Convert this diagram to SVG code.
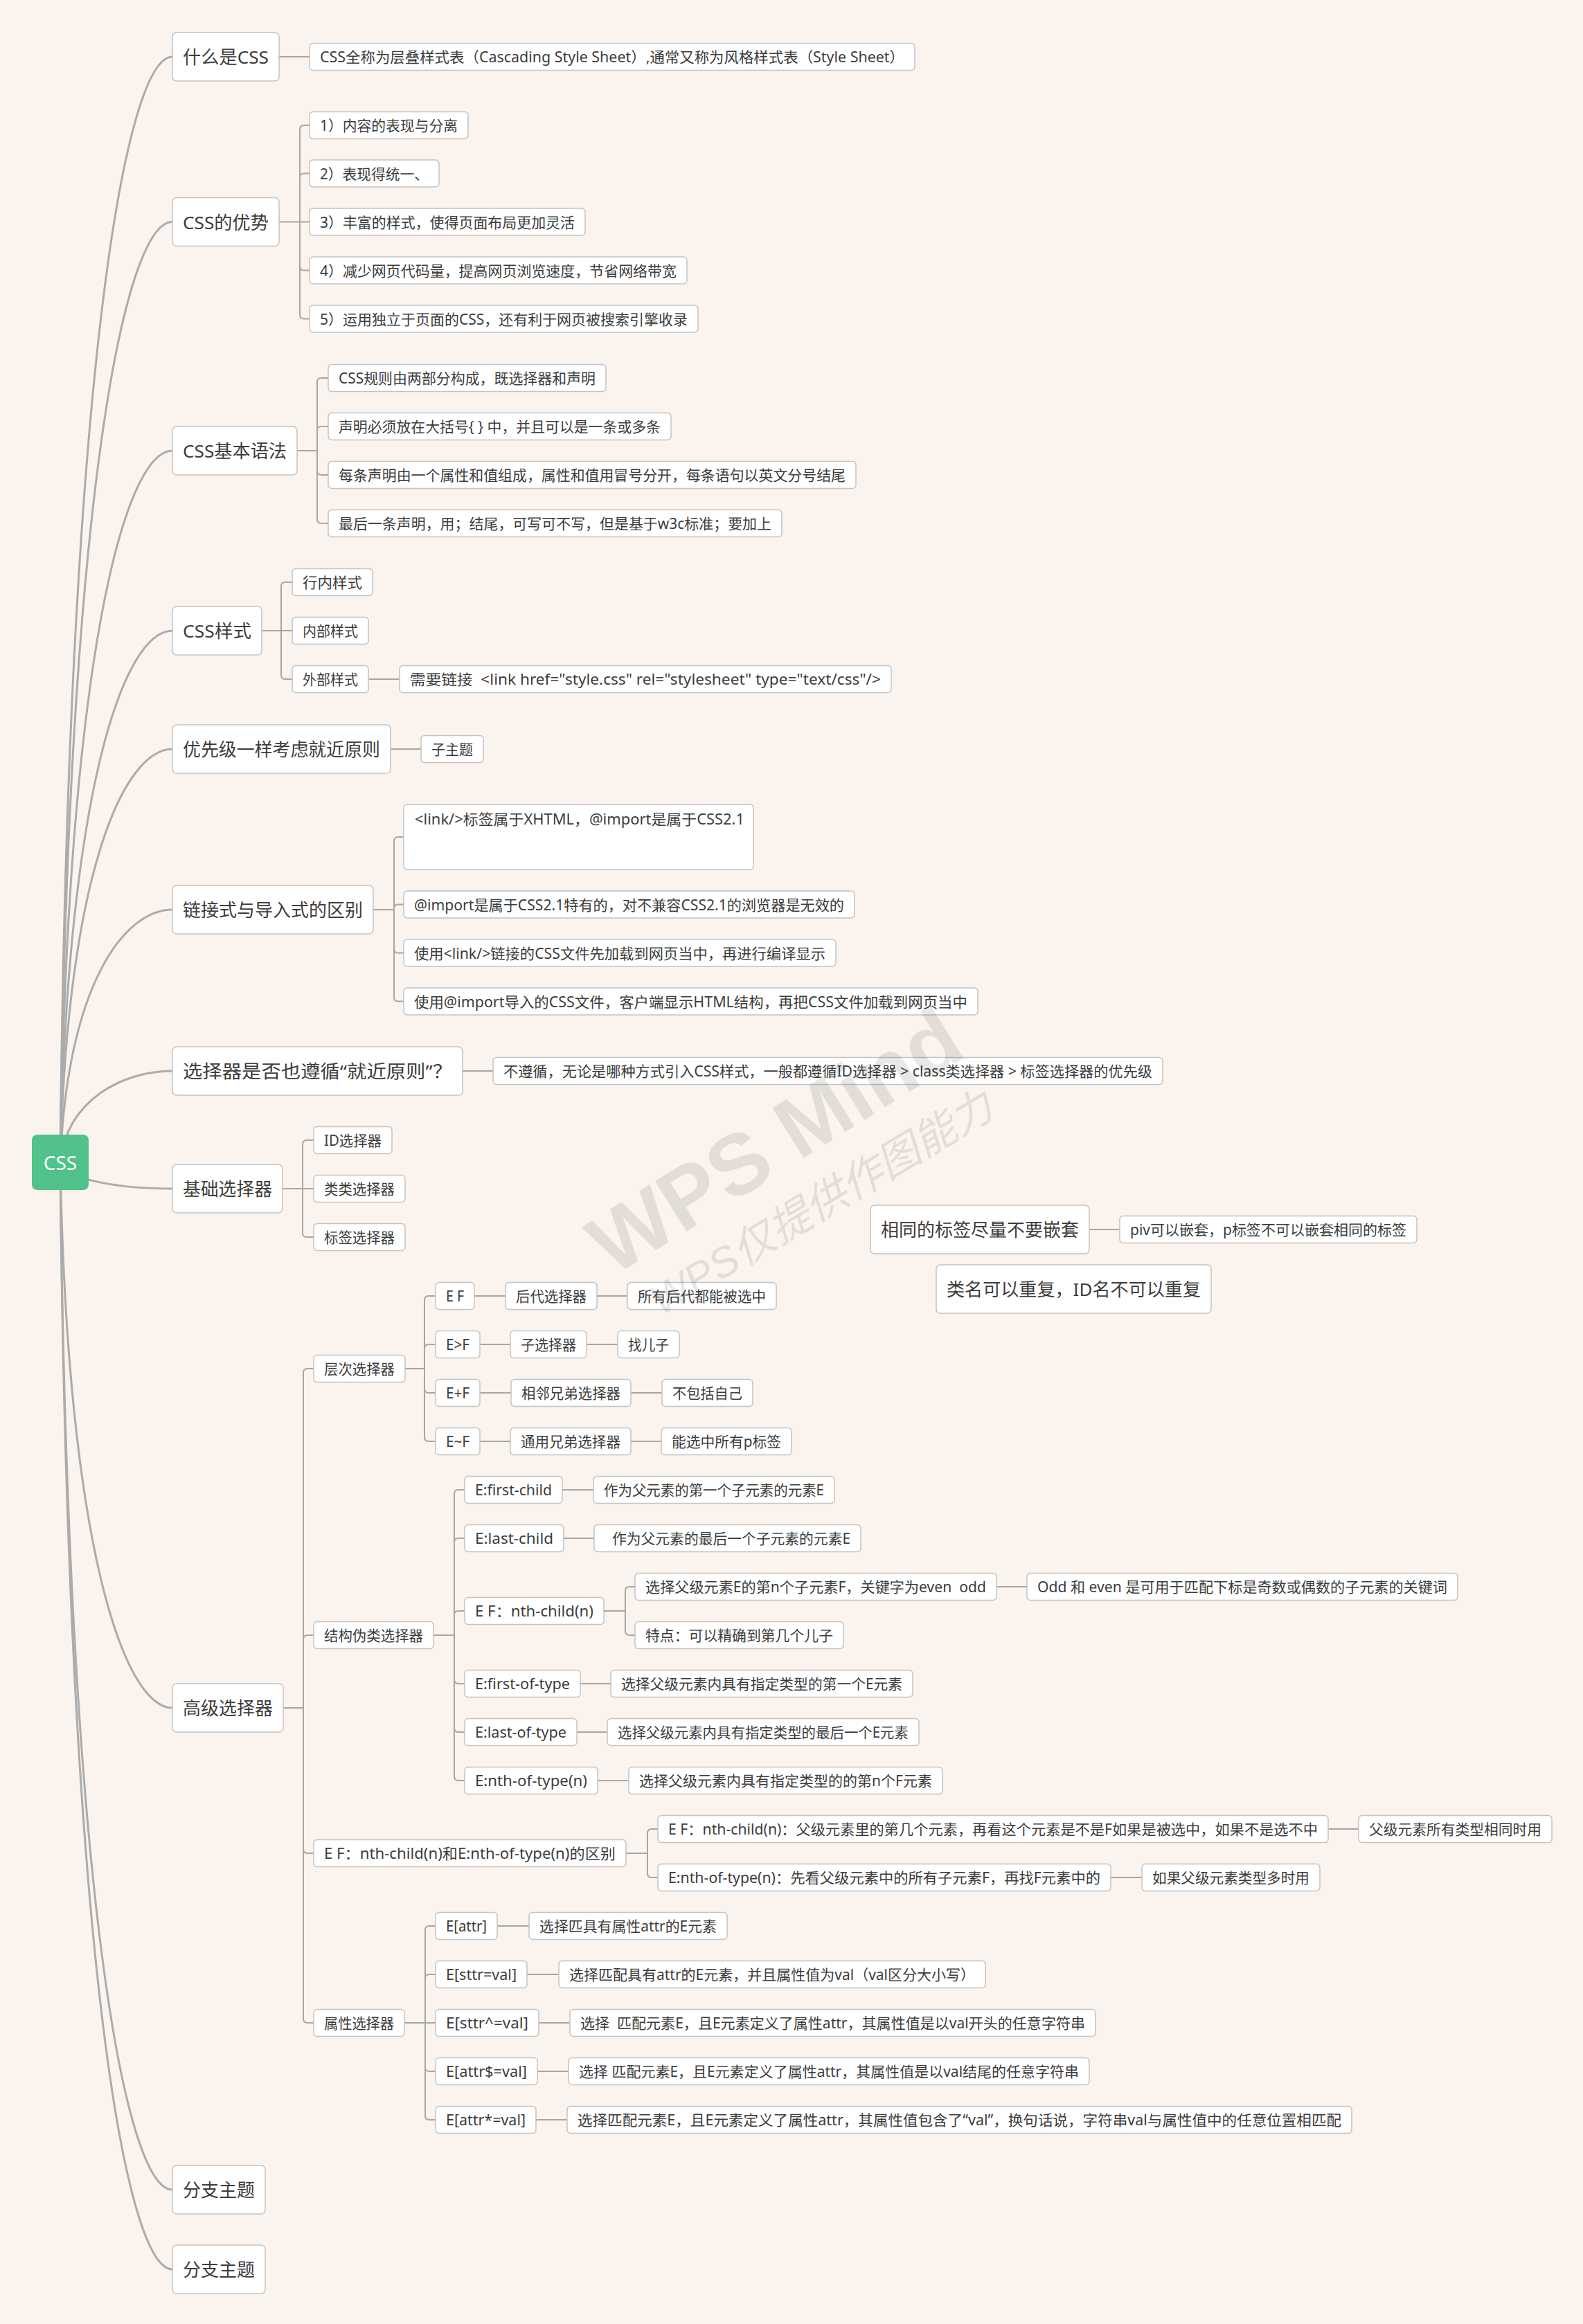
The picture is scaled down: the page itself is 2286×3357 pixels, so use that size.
<svg xmlns="http://www.w3.org/2000/svg" width="2286" height="3357" viewBox="0 0 2286 3357">
<style>
.bg{fill:#FAF3EE}
.box{fill:#FFFFFF;stroke:#C4C4C4;stroke-width:1.5}
.root{fill:#50C28A}
text{font-family:"Noto Sans","Noto Sans CJK SC",sans-serif;fill:#3C3C3C;dominant-baseline:central}
.tm{font-size:26px}
.ts{font-size:21px}
.tr{font-size:28px;fill:#FFFFFF;text-anchor:middle}
.main{fill:none;stroke:#ABABAB;stroke-width:3}
.sub{fill:none;stroke:#A6A6A6;stroke-width:2}
.wm{font-family:"Liberation Sans","Noto Sans CJK SC",sans-serif;fill:#000;fill-opacity:0.09;text-anchor:middle}
</style>
<rect class="bg" x="0" y="0" width="2286" height="3357"/>
<g id="connectors">
<path class="main" d="M87,1679 C97,561 179,82 249,82"/>
<path class="main" d="M87,1679 C97,728 179,320.5 249,320.5"/>
<path class="main" d="M87,1679 C97,959 179,651 249,651"/>
<path class="main" d="M87,1679 C97,1141 179,911 249,911"/>
<path class="main" d="M87,1679 C97,1261 179,1082 249,1082"/>
<path class="main" d="M87,1679 C97,1424 179,1314 249,1314"/>
<path class="main" d="M87,1679 C97,1587 179,1547 249,1547"/>
<path class="main" d="M87,1679 C97,1706 179,1717 249,1717"/>
<path class="main" d="M87,1679 C97,2231 179,2467 249,2467"/>
<path class="main" d="M87,1679 C97,2718 179,3163 249,3163"/>
<path class="main" d="M87,1679 C97,2798 179,3278 249,3278"/>
<path class="sub" d="M403,82 H447"/>
<path class="sub" d="M403,320.5 H433 M433,320.5 V187 Q433,181 439,181 H447 M433,320.5 V256.5 Q433,250.5 439,250.5 H447 M433,320.5 H447 M433,320.5 V384.5 Q433,390.5 439,390.5 H447 M433,320.5 V454.5 Q433,460.5 439,460.5 H447"/>
<path class="sub" d="M429,651 H458 M458,651 V552 Q458,546 464,546 H474 M458,651 V622 Q458,616 464,616 H474 M458,651 V680 Q458,686 464,686 H474 M458,651 V750 Q458,756 464,756 H474"/>
<path class="sub" d="M378,911 H406 M406,911 V847 Q406,841 412,841 H422 M406,911 H422 M406,911 V975 Q406,981 412,981 H422"/>
<path class="sub" d="M532,981 H577"/>
<path class="sub" d="M564,1082 H608"/>
<path class="sub" d="M539,1314 H569 M569,1314 V1215 Q569,1209 575,1209 H583 M569,1314 V1312.5 Q569,1306.5 575,1306.5 H583 M569,1314 V1370.5 Q569,1376.5 575,1376.5 H583 M569,1314 V1440.5 Q569,1446.5 575,1446.5 H583"/>
<path class="sub" d="M668,1547 H712"/>
<path class="sub" d="M408,1717 H437 M437,1717 V1653 Q437,1647 443,1647 H453 M437,1717 H453 M437,1717 V1781 Q437,1787 443,1787 H453"/>
<path class="sub" d="M1573,1776 H1617"/>
<path class="sub" d="M409,2467 H438 M438,2467 V1983 Q438,1977 444,1977 H453 M438,2467 V2368 Q438,2362 444,2362 H453 M438,2467 V2671 Q438,2677 444,2677 H453 M438,2467 V2916 Q438,2922 444,2922 H453"/>
<path class="sub" d="M585,1977 H613 M613,1977 V1878 Q613,1872 619,1872 H629 M613,1977 V1948 Q613,1942 619,1942 H629 M613,1977 V2006 Q613,2012 619,2012 H629 M613,1977 V2076 Q613,2082 619,2082 H629"/>
<path class="sub" d="M685,1872 H730 M862,1872 H906 M693,1942 H737 M847,1942 H892 M693,2012 H738 M911,2012 H956 M693,2082 H737 M911,2082 H955"/>
<path class="sub" d="M626,2362 H656 M656,2362 V2158 Q656,2152 662,2152 H671 M656,2362 V2228 Q656,2222 662,2222 H671 M656,2362 V2333 Q656,2327 662,2327 H671 M656,2362 V2426 Q656,2432 662,2432 H671 M656,2362 V2496 Q656,2502 662,2502 H671 M656,2362 V2566 Q656,2572 662,2572 H671"/>
<path class="sub" d="M812,2152 H857 M814,2222 H858 M838,2432 H882 M833,2502 H877 M863,2572 H908"/>
<path class="sub" d="M872,2327 H903 M903,2327 V2298 Q903,2292 909,2292 H917 M903,2327 V2356 Q903,2362 909,2362 H917 M1439,2292 H1483"/>
<path class="sub" d="M904,2677 H935 M935,2677 V2648 Q935,2642 941,2642 H950 M935,2677 V2706 Q935,2712 941,2712 H950 M1918,2642 H1962 M1604,2712 H1649"/>
<path class="sub" d="M584,2922 H614 M614,2922 V2788 Q614,2782 620,2782 H629 M614,2922 V2858 Q614,2852 620,2852 H629 M614,2922 H629 M614,2922 V2986 Q614,2992 620,2992 H629 M614,2922 V3056 Q614,3062 620,3062 H629"/>
<path class="sub" d="M718,2782 H764 M761,2852 H807 M778,2922 H823 M776,2992 H821 M774,3062 H819"/>
</g>
<g id="root"><rect class="root" x="46" y="1639" width="82" height="80" rx="8"/><text class="tr" x="87" y="1679">CSS</text></g>
<g id="n-what"><rect class="box" x="249" y="47" width="154" height="70" rx="6"/><text class="tm" x="264" y="82" textLength="124" lengthAdjust="spacingAndGlyphs">什么是CSS</text></g>
<g id="n-what-1"><rect class="box" x="447" y="62.5" width="874" height="39" rx="5"/><text class="ts" x="462" y="82" textLength="844" lengthAdjust="spacingAndGlyphs">CSS全称为层叠样式表（Cascading Style Sheet）,通常又称为风格样式表（Style Sheet）</text></g>
<g id="n-adv"><rect class="box" x="249" y="285.5" width="154" height="70" rx="6"/><text class="tm" x="264" y="320.5" textLength="124" lengthAdjust="spacingAndGlyphs">CSS的优势</text></g>
<g id="n-adv-1"><rect class="box" x="447" y="161.5" width="229" height="39" rx="5"/><text class="ts" x="462" y="181" textLength="199" lengthAdjust="spacingAndGlyphs">1）内容的表现与分离</text></g>
<g id="n-adv-2"><rect class="box" x="447" y="231" width="187" height="39" rx="5"/><text class="ts" x="462" y="250.5" textLength="157" lengthAdjust="spacingAndGlyphs">2）表现得统一、</text></g>
<g id="n-adv-3"><rect class="box" x="447" y="301" width="398" height="39" rx="5"/><text class="ts" x="462" y="320.5" textLength="368" lengthAdjust="spacingAndGlyphs">3）丰富的样式，使得页面布局更加灵活</text></g>
<g id="n-adv-4"><rect class="box" x="447" y="371" width="545" height="39" rx="5"/><text class="ts" x="462" y="390.5" textLength="515" lengthAdjust="spacingAndGlyphs">4）减少网页代码量，提高网页浏览速度，节省网络带宽</text></g>
<g id="n-adv-5"><rect class="box" x="447" y="441" width="561" height="39" rx="5"/><text class="ts" x="462" y="460.5" textLength="531" lengthAdjust="spacingAndGlyphs">5）运用独立于页面的CSS，还有利于网页被搜索引擎收录</text></g>
<g id="n-syntax"><rect class="box" x="249" y="616" width="180" height="70" rx="6"/><text class="tm" x="264" y="651" textLength="150" lengthAdjust="spacingAndGlyphs">CSS基本语法</text></g>
<g id="n-syntax-1"><rect class="box" x="474" y="526.5" width="401" height="39" rx="5"/><text class="ts" x="489" y="546" textLength="371" lengthAdjust="spacingAndGlyphs">CSS规则由两部分构成，既选择器和声明</text></g>
<g id="n-syntax-2"><rect class="box" x="474" y="596.5" width="495" height="39" rx="5"/><text class="ts" x="489" y="616" textLength="465" lengthAdjust="spacingAndGlyphs">声明必须放在大括号{ } 中，并且可以是一条或多条</text></g>
<g id="n-syntax-3"><rect class="box" x="474" y="666.5" width="762" height="39" rx="5"/><text class="ts" x="489" y="686" textLength="732" lengthAdjust="spacingAndGlyphs">每条声明由一个属性和值组成，属性和值用冒号分开，每条语句以英文分号结尾</text></g>
<g id="n-syntax-4"><rect class="box" x="474" y="736.5" width="655" height="39" rx="5"/><text class="ts" x="489" y="756" textLength="625" lengthAdjust="spacingAndGlyphs">最后一条声明，用；结尾，可写可不写，但是基于w3c标准；要加上</text></g>
<g id="n-style"><rect class="box" x="249" y="876" width="129" height="70" rx="6"/><text class="tm" x="264" y="911" textLength="99" lengthAdjust="spacingAndGlyphs">CSS样式</text></g>
<g id="n-style-1"><rect class="box" x="422" y="821.5" width="116" height="39" rx="5"/><text class="ts" x="437" y="841" textLength="86" lengthAdjust="spacingAndGlyphs">行内样式</text></g>
<g id="n-style-2"><rect class="box" x="422" y="891.5" width="110" height="39" rx="5"/><text class="ts" x="437" y="911" textLength="80" lengthAdjust="spacingAndGlyphs">内部样式</text></g>
<g id="n-style-3"><rect class="box" x="422" y="961.5" width="110" height="39" rx="5"/><text class="ts" x="437" y="981" textLength="80" lengthAdjust="spacingAndGlyphs">外部样式</text></g>
<g id="n-style-3-1"><rect class="box" x="577" y="961.5" width="710" height="39" rx="5"/><text class="ts" x="592" y="981" textLength="680" lengthAdjust="spacingAndGlyphs">需要链接&#160;&#160;&lt;link href="style.css" rel="stylesheet" type="text/css"/&gt;</text></g>
<g id="n-prio"><rect class="box" x="249" y="1047" width="315" height="70" rx="6"/><text class="tm" x="264" y="1082" textLength="285" lengthAdjust="spacingAndGlyphs">优先级一样考虑就近原则</text></g>
<g id="n-prio-1"><rect class="box" x="608" y="1062.5" width="90" height="39" rx="5"/><text class="ts" x="623" y="1082" textLength="60" lengthAdjust="spacingAndGlyphs">子主题</text></g>
<g id="n-link"><rect class="box" x="249" y="1279" width="290" height="70" rx="6"/><text class="tm" x="264" y="1314" textLength="260" lengthAdjust="spacingAndGlyphs">链接式与导入式的区别</text></g>
<g id="n-link-1"><rect class="box" x="583" y="1162" width="505" height="94" rx="5"/><text class="ts" x="599" y="1183" textLength="476" lengthAdjust="spacingAndGlyphs">&lt;link/&gt;标签属于XHTML，@import是属于CSS2.1</text></g>
<g id="n-link-2"><rect class="box" x="583" y="1287" width="651" height="39" rx="5"/><text class="ts" x="598" y="1306.5" textLength="621" lengthAdjust="spacingAndGlyphs">@import是属于CSS2.1特有的，对不兼容CSS2.1的浏览器是无效的</text></g>
<g id="n-link-3"><rect class="box" x="583" y="1357" width="624" height="39" rx="5"/><text class="ts" x="598" y="1376.5" textLength="594" lengthAdjust="spacingAndGlyphs">使用&lt;link/&gt;链接的CSS文件先加载到网页当中，再进行编译显示</text></g>
<g id="n-link-4"><rect class="box" x="583" y="1427" width="829" height="39" rx="5"/><text class="ts" x="598" y="1446.5" textLength="799" lengthAdjust="spacingAndGlyphs">使用@import导入的CSS文件，客户端显示HTML结构，再把CSS文件加载到网页当中</text></g>
<g id="n-near"><rect class="box" x="249" y="1512" width="419" height="70" rx="6"/><text class="tm" x="264" y="1547" textLength="389" lengthAdjust="spacingAndGlyphs">选择器是否也遵循“就近原则”？</text></g>
<g id="n-near-1"><rect class="box" x="712" y="1527.5" width="967" height="39" rx="5"/><text class="ts" x="727" y="1547" textLength="937" lengthAdjust="spacingAndGlyphs">不遵循，无论是哪种方式引入CSS样式，一般都遵循ID选择器 &gt; class类选择器 &gt; 标签选择器的优先级</text></g>
<g id="n-basic"><rect class="box" x="249" y="1682" width="159" height="70" rx="6"/><text class="tm" x="264" y="1717" textLength="129" lengthAdjust="spacingAndGlyphs">基础选择器</text></g>
<g id="n-basic-1"><rect class="box" x="453" y="1627.5" width="113" height="39" rx="5"/><text class="ts" x="468" y="1647" textLength="83" lengthAdjust="spacingAndGlyphs">ID选择器</text></g>
<g id="n-basic-2"><rect class="box" x="453" y="1697.5" width="132" height="39" rx="5"/><text class="ts" x="468" y="1717" textLength="102" lengthAdjust="spacingAndGlyphs">类类选择器</text></g>
<g id="n-basic-3"><rect class="box" x="453" y="1767.5" width="132" height="39" rx="5"/><text class="ts" x="468" y="1787" textLength="102" lengthAdjust="spacingAndGlyphs">标签选择器</text></g>
<g id="n-nest"><rect class="box" x="1257" y="1741" width="316" height="70" rx="6"/><text class="tm" x="1272" y="1776" textLength="286" lengthAdjust="spacingAndGlyphs">相同的标签尽量不要嵌套</text></g>
<g id="n-nest-1"><rect class="box" x="1617" y="1756.5" width="429" height="39" rx="5"/><text class="ts" x="1632" y="1776" textLength="399" lengthAdjust="spacingAndGlyphs">piv可以嵌套，p标签不可以嵌套相同的标签</text></g>
<g id="n-names"><rect class="box" x="1352" y="1827" width="397" height="70" rx="6"/><text class="tm" x="1367" y="1862" textLength="367" lengthAdjust="spacingAndGlyphs">类名可以重复，ID名不可以重复</text></g>
<g id="n-adv-sel"><rect class="box" x="249" y="2432" width="160" height="70" rx="6"/><text class="tm" x="264" y="2467" textLength="130" lengthAdjust="spacingAndGlyphs">高级选择器</text></g>
<g id="n-hier"><rect class="box" x="453" y="1957.5" width="132" height="39" rx="5"/><text class="ts" x="468" y="1977" textLength="102" lengthAdjust="spacingAndGlyphs">层次选择器</text></g>
<g id="n-hier-1"><rect class="box" x="629" y="1852.5" width="56" height="39" rx="5"/><text class="ts" x="644" y="1872" textLength="26" lengthAdjust="spacingAndGlyphs">E F</text></g>
<g id="n-hier-1a"><rect class="box" x="730" y="1852.5" width="132" height="39" rx="5"/><text class="ts" x="745" y="1872" textLength="102" lengthAdjust="spacingAndGlyphs">后代选择器</text></g>
<g id="n-hier-1b"><rect class="box" x="906" y="1852.5" width="215" height="39" rx="5"/><text class="ts" x="921" y="1872" textLength="185" lengthAdjust="spacingAndGlyphs">所有后代都能被选中</text></g>
<g id="n-hier-2"><rect class="box" x="629" y="1922.5" width="64" height="39" rx="5"/><text class="ts" x="644" y="1942" textLength="34" lengthAdjust="spacingAndGlyphs">E&gt;F</text></g>
<g id="n-hier-2a"><rect class="box" x="737" y="1922.5" width="110" height="39" rx="5"/><text class="ts" x="752" y="1942" textLength="80" lengthAdjust="spacingAndGlyphs">子选择器</text></g>
<g id="n-hier-2b"><rect class="box" x="892" y="1922.5" width="89" height="39" rx="5"/><text class="ts" x="907" y="1942" textLength="59" lengthAdjust="spacingAndGlyphs">找儿子</text></g>
<g id="n-hier-3"><rect class="box" x="629" y="1992.5" width="64" height="39" rx="5"/><text class="ts" x="644" y="2012" textLength="34" lengthAdjust="spacingAndGlyphs">E+F</text></g>
<g id="n-hier-3a"><rect class="box" x="738" y="1992.5" width="173" height="39" rx="5"/><text class="ts" x="753" y="2012" textLength="143" lengthAdjust="spacingAndGlyphs">相邻兄弟选择器</text></g>
<g id="n-hier-3b"><rect class="box" x="956" y="1992.5" width="131" height="39" rx="5"/><text class="ts" x="971" y="2012" textLength="101" lengthAdjust="spacingAndGlyphs">不包括自己</text></g>
<g id="n-hier-4"><rect class="box" x="629" y="2062.5" width="64" height="39" rx="5"/><text class="ts" x="644" y="2082" textLength="34" lengthAdjust="spacingAndGlyphs">E~F</text></g>
<g id="n-hier-4a"><rect class="box" x="737" y="2062.5" width="174" height="39" rx="5"/><text class="ts" x="752" y="2082" textLength="144" lengthAdjust="spacingAndGlyphs">通用兄弟选择器</text></g>
<g id="n-hier-4b"><rect class="box" x="955" y="2062.5" width="188" height="39" rx="5"/><text class="ts" x="970" y="2082" textLength="158" lengthAdjust="spacingAndGlyphs">能选中所有p标签</text></g>
<g id="n-struct"><rect class="box" x="453" y="2342.5" width="173" height="39" rx="5"/><text class="ts" x="468" y="2362" textLength="143" lengthAdjust="spacingAndGlyphs">结构伪类选择器</text></g>
<g id="n-struct-1"><rect class="box" x="671" y="2132.5" width="141" height="39" rx="5"/><text class="ts" x="686" y="2152" textLength="111" lengthAdjust="spacingAndGlyphs">E:first-child</text></g>
<g id="n-struct-1a"><rect class="box" x="857" y="2132.5" width="348" height="39" rx="5"/><text class="ts" x="872" y="2152" textLength="318" lengthAdjust="spacingAndGlyphs">作为父元素的第一个子元素的元素E</text></g>
<g id="n-struct-2"><rect class="box" x="671" y="2202.5" width="143" height="39" rx="5"/><text class="ts" x="686" y="2222" textLength="113" lengthAdjust="spacingAndGlyphs">E:last-child</text></g>
<g id="n-struct-2a"><rect class="box" x="858" y="2202.5" width="385" height="39" rx="5"/><text class="ts" x="884" y="2222" textLength="344" lengthAdjust="spacingAndGlyphs">作为父元素的最后一个子元素的元素E</text></g>
<g id="n-struct-3"><rect class="box" x="671" y="2307.5" width="201" height="39" rx="5"/><text class="ts" x="686" y="2327" textLength="171" lengthAdjust="spacingAndGlyphs">E F：nth-child(n)</text></g>
<g id="n-struct-3a"><rect class="box" x="917" y="2272.5" width="522" height="39" rx="5"/><text class="ts" x="932" y="2292" textLength="492" lengthAdjust="spacingAndGlyphs">选择父级元素E的第n个子元素F，关键字为even&#160;&#160;odd</text></g>
<g id="n-struct-3a1"><rect class="box" x="1483" y="2272.5" width="622" height="39" rx="5"/><text class="ts" x="1498" y="2292" textLength="592" lengthAdjust="spacingAndGlyphs">Odd 和 even 是可用于匹配下标是奇数或偶数的子元素的关键词</text></g>
<g id="n-struct-3b"><rect class="box" x="917" y="2342.5" width="301" height="39" rx="5"/><text class="ts" x="932" y="2362" textLength="271" lengthAdjust="spacingAndGlyphs">特点：可以精确到第几个儿子</text></g>
<g id="n-struct-4"><rect class="box" x="671" y="2412.5" width="167" height="39" rx="5"/><text class="ts" x="686" y="2432" textLength="137" lengthAdjust="spacingAndGlyphs">E:first-of-type</text></g>
<g id="n-struct-4a"><rect class="box" x="882" y="2412.5" width="436" height="39" rx="5"/><text class="ts" x="897" y="2432" textLength="406" lengthAdjust="spacingAndGlyphs">选择父级元素内具有指定类型的第一个E元素</text></g>
<g id="n-struct-5"><rect class="box" x="671" y="2482.5" width="162" height="39" rx="5"/><text class="ts" x="686" y="2502" textLength="132" lengthAdjust="spacingAndGlyphs">E:last-of-type</text></g>
<g id="n-struct-5a"><rect class="box" x="877" y="2482.5" width="450" height="39" rx="5"/><text class="ts" x="892" y="2502" textLength="420" lengthAdjust="spacingAndGlyphs">选择父级元素内具有指定类型的最后一个E元素</text></g>
<g id="n-struct-6"><rect class="box" x="671" y="2552.5" width="192" height="39" rx="5"/><text class="ts" x="686" y="2572" textLength="162" lengthAdjust="spacingAndGlyphs">E:nth-of-type(n)</text></g>
<g id="n-struct-6a"><rect class="box" x="908" y="2552.5" width="453" height="39" rx="5"/><text class="ts" x="923" y="2572" textLength="423" lengthAdjust="spacingAndGlyphs">选择父级元素内具有指定类型的的第n个F元素</text></g>
<g id="n-diff"><rect class="box" x="453" y="2657.5" width="451" height="39" rx="5"/><text class="ts" x="468" y="2677" textLength="421" lengthAdjust="spacingAndGlyphs">E F：nth-child(n)和E:nth-of-type(n)的区别</text></g>
<g id="n-diff-1"><rect class="box" x="950" y="2622.5" width="968" height="39" rx="5"/><text class="ts" x="965" y="2642" textLength="938" lengthAdjust="spacingAndGlyphs">E F：nth-child(n)：父级元素里的第几个元素，再看这个元素是不是F如果是被选中，如果不是选不中</text></g>
<g id="n-diff-1a"><rect class="box" x="1962" y="2622.5" width="279" height="39" rx="5"/><text class="ts" x="1977" y="2642" textLength="249" lengthAdjust="spacingAndGlyphs">父级元素所有类型相同时用</text></g>
<g id="n-diff-2"><rect class="box" x="950" y="2692.5" width="654" height="39" rx="5"/><text class="ts" x="965" y="2712" textLength="624" lengthAdjust="spacingAndGlyphs">E:nth-of-type(n)：先看父级元素中的所有子元素F，再找F元素中的</text></g>
<g id="n-diff-2a"><rect class="box" x="1649" y="2692.5" width="257" height="39" rx="5"/><text class="ts" x="1664" y="2712" textLength="227" lengthAdjust="spacingAndGlyphs">如果父级元素类型多时用</text></g>
<g id="n-attr"><rect class="box" x="453" y="2902.5" width="131" height="39" rx="5"/><text class="ts" x="468" y="2922" textLength="101" lengthAdjust="spacingAndGlyphs">属性选择器</text></g>
<g id="n-attr-1"><rect class="box" x="629" y="2762.5" width="89" height="39" rx="5"/><text class="ts" x="644" y="2782" textLength="59" lengthAdjust="spacingAndGlyphs">E[attr]</text></g>
<g id="n-attr-1a"><rect class="box" x="764" y="2762.5" width="286" height="39" rx="5"/><text class="ts" x="779" y="2782" textLength="256" lengthAdjust="spacingAndGlyphs">选择匹具有属性attr的E元素</text></g>
<g id="n-attr-2"><rect class="box" x="629" y="2832.5" width="132" height="39" rx="5"/><text class="ts" x="644" y="2852" textLength="102" lengthAdjust="spacingAndGlyphs">E[sttr=val]</text></g>
<g id="n-attr-2a"><rect class="box" x="807" y="2832.5" width="616" height="39" rx="5"/><text class="ts" x="822" y="2852" textLength="586" lengthAdjust="spacingAndGlyphs">选择匹配具有attr的E元素，并且属性值为val（val区分大小写）</text></g>
<g id="n-attr-3"><rect class="box" x="629" y="2902.5" width="149" height="39" rx="5"/><text class="ts" x="644" y="2922" textLength="119" lengthAdjust="spacingAndGlyphs">E[sttr^=val]</text></g>
<g id="n-attr-3a"><rect class="box" x="823" y="2902.5" width="759" height="39" rx="5"/><text class="ts" x="838" y="2922" textLength="729" lengthAdjust="spacingAndGlyphs">选择&#160;&#160;匹配元素E，且E元素定义了属性attr，其属性值是以val开头的任意字符串</text></g>
<g id="n-attr-4"><rect class="box" x="629" y="2972.5" width="147" height="39" rx="5"/><text class="ts" x="644" y="2992" textLength="117" lengthAdjust="spacingAndGlyphs">E[attr$=val]</text></g>
<g id="n-attr-4a"><rect class="box" x="821" y="2972.5" width="752" height="39" rx="5"/><text class="ts" x="836" y="2992" textLength="722" lengthAdjust="spacingAndGlyphs">选择&#160;匹配元素E，且E元素定义了属性attr，其属性值是以val结尾的任意字符串</text></g>
<g id="n-attr-5"><rect class="box" x="629" y="3042.5" width="145" height="39" rx="5"/><text class="ts" x="644" y="3062" textLength="115" lengthAdjust="spacingAndGlyphs">E[attr*=val]</text></g>
<g id="n-attr-5a"><rect class="box" x="819" y="3042.5" width="1133" height="39" rx="5"/><text class="ts" x="834" y="3062" textLength="1103" lengthAdjust="spacingAndGlyphs">选择匹配元素E，且E元素定义了属性attr，其属性值包含了“val”，换句话说，字符串val与属性值中的任意位置相匹配</text></g>
<g id="n-branch-1"><rect class="box" x="249" y="3128" width="134" height="70" rx="6"/><text class="tm" x="264" y="3163" textLength="104" lengthAdjust="spacingAndGlyphs">分支主题</text></g>
<g id="n-branch-2"><rect class="box" x="249" y="3243" width="134" height="70" rx="6"/><text class="tm" x="264" y="3278" textLength="104" lengthAdjust="spacingAndGlyphs">分支主题</text></g>
<g id="watermark">
<text class="wm" x="0" y="0" font-size="124" font-weight="bold" transform="translate(1119,1648) rotate(-32)">WPS Mind</text>
<text class="wm" x="0" y="0" font-size="61" font-style="italic" fill-opacity="0.07" transform="translate(1186,1738) rotate(-31)">WPS仅提供作图能力</text>
</g>
</svg>
